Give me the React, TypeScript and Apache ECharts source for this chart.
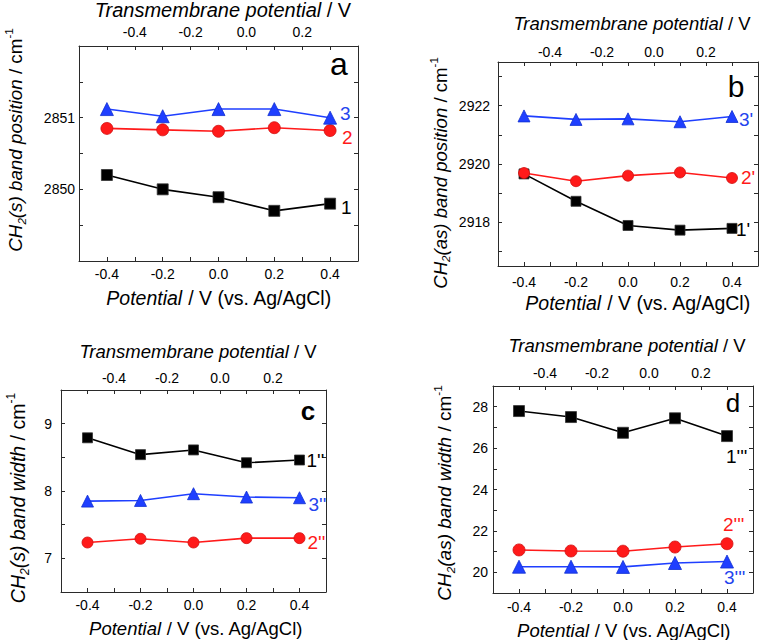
import React, { useEffect, useRef } from 'react';
import * as echarts from 'echarts';

// ---------- data ----------
const potentials = [-0.4, -0.2, 0.0, 0.2, 0.4];

const aSym1 = [2850.2, 2850.0, 2849.89, 2849.7, 2849.8];
const aSym2 = [2850.85, 2850.83, 2850.81, 2850.86, 2850.82];
const aSym3 = [2851.12, 2851.02, 2851.12, 2851.12, 2851.0];

const bAsym1 = [2919.66, 2918.72, 2917.89, 2917.73, 2917.79];
const bAsym2 = [2919.69, 2919.41, 2919.6, 2919.71, 2919.52];
const bAsym3 = [2921.65, 2921.53, 2921.55, 2921.45, 2921.63];

const cWidth1 = [8.79, 8.54, 8.61, 8.42, 8.46];
const cWidth2 = [7.235, 7.29, 7.235, 7.3, 7.3];
const cWidth3 = [7.85, 7.86, 7.96, 7.91, 7.9];

const dWidth1 = [27.79, 27.5, 26.74, 27.44, 26.58];
const dWidth2 = [21.08, 21.03, 21.02, 21.22, 21.38];
const dWidth3 = [20.27, 20.27, 20.26, 20.45, 20.52];

const aLabels = ['1', '2', '3'];
const bLabels = ["1'", "2'", "3'"];
const cLabels = ["1''", "2''", "3''"];
const dLabels = ["1'''", "2'''", "3'''"];

// ---------- style ----------
const FONT = "'Liberation Sans', Arial, Helvetica, sans-serif";
const BLACK = '#000000';
const RED = '#ff1a1a';
const BLUE = '#1f3fff';
const AXIS = '#2a2a2a';

type SeriesCfg = {
  data: number[];
  name: string;
  color: string;
  border: string;
  symbol: string;
  size: number;
  label: string;
  dx: number;
  dy: number;
};

type PanelCfg = {
  grid: { left: number; top: number; width: number; height: number };
  yMin: number;
  yMax: number;
  yInterval?: number;
  ySplit?: number;
  yStep: number;
  leftMargin: number;
  bottomMargin: number;
  topMargin: number;
  series: SeriesCfg[];
};

const panels: PanelCfg[] = [
  {
    grid: { left: 79, top: 46, width: 279, height: 215 },
    yMin: 2849, yMax: 2852, yInterval: 0.5, yStep: 1,
    leftMargin: 4, bottomMargin: 6, topMargin: 7,
    series: [
      { data: aSym1, name: 'a1', color: BLACK, border: '#333', symbol: 'rect', size: 11, label: aLabels[0], dx: 11, dy: 4 },
      { data: aSym2, name: 'a2', color: RED, border: '#d01010', symbol: 'circle', size: 12, label: aLabels[1], dx: 12, dy: 7 },
      { data: aSym3, name: 'a3', color: BLUE, border: '#1030d0', symbol: 'triangle', size: 13, label: aLabels[2], dx: 10, dy: -4 },
    ],
  },
  {
    grid: { left: 498, top: 62, width: 260, height: 204 },
    yMin: 2916.5, yMax: 2923.5, ySplit: 7, yStep: 2,
    leftMargin: 8, bottomMargin: 9, topMargin: 3,
    series: [
      { data: bAsym1, name: 'b1', color: BLACK, border: '#333', symbol: 'rect', size: 10, label: bLabels[0], dx: 4, dy: 1 },
      { data: bAsym2, name: 'b2', color: RED, border: '#d01010', symbol: 'circle', size: 11, label: bLabels[1], dx: 9, dy: 0 },
      { data: bAsym3, name: 'b3', color: BLUE, border: '#1030d0', symbol: 'triangle', size: 12, label: bLabels[2], dx: 7, dy: 3 },
    ],
  },
  {
    grid: { left: 61, top: 390, width: 265, height: 202 },
    yMin: 6.5, yMax: 9.5, yInterval: 0.5, yStep: 1,
    leftMargin: 9, bottomMargin: 6, topMargin: 5,
    series: [
      { data: cWidth1, name: 'c1', color: BLACK, border: '#333', symbol: 'rect', size: 10, label: cLabels[0], dx: 7, dy: 0 },
      { data: cWidth2, name: 'c2', color: RED, border: '#d01010', symbol: 'circle', size: 11, label: cLabels[1], dx: 8, dy: 4 },
      { data: cWidth3, name: 'c3', color: BLUE, border: '#1030d0', symbol: 'triangle', size: 12, label: cLabels[2], dx: 9, dy: 7 },
    ],
  },
  {
    grid: { left: 493, top: 386, width: 260, height: 207 },
    yMin: 19, yMax: 29, yInterval: 1, yStep: 2,
    leftMargin: 5, bottomMargin: 7, topMargin: 6,
    series: [
      { data: dWidth1, name: 'd1', color: BLACK, border: '#333', symbol: 'rect', size: 11, label: dLabels[0], dx: -1, dy: 20 },
      { data: dWidth2, name: 'd2', color: RED, border: '#d01010', symbol: 'circle', size: 12, label: dLabels[1], dx: -4, dy: -19 },
      { data: dWidth3, name: 'd3', color: BLUE, border: '#1030d0', symbol: 'triangle', size: 13, label: dLabels[2], dx: -3, dy: 16 },
    ],
  },
];

type TitleCfg = { top: [number, number, number]; bottom: [number, number, number]; y: [number, number, number]; yText: string; letter: [string, number, number, number, string] };

const titles: TitleCfg[] = [
  { top: [223, 10, 20], bottom: [219, 298, 19.5], y: [15, 140, 18.8], yText: '(s) band position', letter: ['a', 339, 64, 32, 'normal'] },
  { top: [632, 23, 18.5], bottom: [638, 303, 19.5], y: [440, 173, 18.6], yText: '(as) band position', letter: ['b', 736, 86, 30, 'normal'] },
  { top: [198, 351, 18.5], bottom: [196, 628, 18.5], y: [18, 498, 19.5], yText: '(s) band width', letter: ['c', 308, 411, 26, 'bold'] },
  { top: [627, 345, 18.5], bottom: [624, 630, 18.5], y: [444, 493, 19], yText: '(as) band width', letter: ['d', 733, 403, 26, 'normal'] },
];

const near = (a: number, b: number) => Math.abs(a - b) < 1e-6;

function fmtBottom(v: number) {
  const k = Math.round(v * 10);
  if (k % 2 !== 0 || k < -4 || k > 4) return '';
  return (k / 10).toFixed(1);
}
function fmtTop(v: number) {
  const k = Math.round(v * 10);
  if (k % 2 !== 0 || k < -4 || k > 2) return '';
  return (k / 10).toFixed(1);
}

function buildOption() {
  const grid: any[] = [];
  const xAxis: any[] = [];
  const yAxis: any[] = [];
  const series: any[] = [];
  const graphic: any[] = [];

  const lineStyle = { color: AXIS, width: 1 };
  const tick = { show: true, inside: true, length: 4, lineStyle };
  const labelBase = { color: '#000', fontSize: 14, fontFamily: FONT };

  panels.forEach((p, i) => {
    grid.push({ ...p.grid, containLabel: false });
    xAxis.push({
      gridIndex: i, type: 'value', position: 'bottom', min: -0.5, max: 0.5, interval: 0.1,
      axisLine: { show: true, onZero: false, lineStyle }, axisTick: tick, splitLine: { show: false },
      axisLabel: { ...labelBase, margin: p.bottomMargin, formatter: fmtBottom, showMinLabel: true, showMaxLabel: true },
    });
    xAxis.push({
      gridIndex: i, type: 'value', position: 'top', min: -0.6, max: 0.4, interval: 0.1,
      axisLine: { show: true, onZero: false, lineStyle }, axisTick: tick, splitLine: { show: false },
      axisLabel: { ...labelBase, margin: p.topMargin, formatter: fmtTop, showMinLabel: true, showMaxLabel: true },
    });
    const yCommon: any = {
      gridIndex: i, type: 'value', min: p.yMin, max: p.yMax,
      axisLine: { show: true, onZero: false, lineStyle }, axisTick: tick, splitLine: { show: false },
    };
    if (p.yInterval != null) yCommon.interval = p.yInterval;
    if (p.ySplit != null) yCommon.splitNumber = p.ySplit;
    yAxis.push({
      ...yCommon, position: 'left',
      axisLabel: {
        ...labelBase, margin: p.leftMargin,
        formatter: (v: number) => {
          const r = v / p.yStep;
          if (!near(r, Math.round(r))) return '';
          if (near(v, p.yMin) || near(v, p.yMax)) return '';
          return String(Math.round(v));
        },
      },
    });
    yAxis.push({ ...yCommon, position: 'right', axisLabel: { show: false } });

    p.series.forEach((s) => {
      const data = potentials.map((x, j) => {
        if (j !== potentials.length - 1) return [x, s.data[j]];
        return {
          value: [x, s.data[j]],
          label: {
            show: true, formatter: s.label, position: ['50%', '50%'], align: 'left', verticalAlign: 'middle',
            offset: [s.dx, s.dy], color: s.color === BLACK ? '#000' : s.color === RED ? RED : '#2444ee',
            fontSize: 19, fontFamily: FONT,
          },
        };
      });
      series.push({
        name: s.name, type: 'line', xAxisIndex: 2 * i, yAxisIndex: 2 * i, data,
        symbol: s.symbol, symbolSize: s.size,
        lineStyle: { color: s.color, width: 1.6 },
        itemStyle: { color: s.color, borderColor: s.border, borderWidth: 0.8 },
        label: { show: false },
        emphasis: { disabled: true },
        z: 3,
      });
    });

    const t = titles[i];
    graphic.push({
      type: 'text', x: t.top[0], y: t.top[1],
      style: {
        text: '{i|Transmembrane potential}{n| / V}', align: 'center', verticalAlign: 'middle', fill: '#000',
        fontSize: t.top[2], fontFamily: FONT,
        rich: { i: { fontStyle: 'italic', fontSize: t.top[2], fontFamily: FONT }, n: { fontSize: t.top[2], fontFamily: FONT } },
      },
    });
    graphic.push({
      type: 'text', x: t.bottom[0], y: t.bottom[1],
      style: {
        text: '{i|Potential}{n| / V (vs. Ag/AgCl)}', align: 'center', verticalAlign: 'middle', fill: '#000',
        fontSize: t.bottom[2], fontFamily: FONT,
        rich: { i: { fontStyle: 'italic', fontSize: t.bottom[2], fontFamily: FONT }, n: { fontSize: t.bottom[2], fontFamily: FONT } },
      },
    });
    const fs = t.y[2];
    graphic.push({
      type: 'text', x: t.y[0], y: t.y[1], rotation: Math.PI / 2,
      style: {
        text: '{i|CH}{sub|2}{i|' + t.yText + '}{n| / cm}{sup|-1}', align: 'center', verticalAlign: 'middle', fill: '#000',
        fontSize: fs, fontFamily: FONT,
        rich: {
          i: { fontStyle: 'italic', fontSize: fs, fontFamily: FONT, lineHeight: fs * 1.3 },
          n: { fontSize: fs, fontFamily: FONT, lineHeight: fs * 1.3 },
          sub: { fontStyle: 'italic', fontSize: fs * 0.62, fontFamily: FONT, verticalAlign: 'bottom', lineHeight: fs * 0.62 },
          sup: { fontSize: fs * 0.62, fontFamily: FONT, verticalAlign: 'top', lineHeight: fs * 0.62 },
        },
      },
    });
    graphic.push({
      type: 'text', x: t.letter[1], y: t.letter[2],
      style: {
        text: t.letter[0], align: 'center', verticalAlign: 'middle', fill: '#000',
        fontSize: t.letter[3], fontWeight: t.letter[4], fontFamily: FONT,
      },
    });
  });

  return {
    animation: false,
    backgroundColor: '#ffffff',
    textStyle: { fontFamily: FONT },
    grid, xAxis, yAxis, series, graphic,
  };
}

export default function App() {
  const ref = useRef<HTMLDivElement>(null);
  useEffect(() => {
    if (!ref.current) return;
    const chart = echarts.init(ref.current, null, { renderer: 'svg' });
    chart.setOption(buildOption() as any);
    return () => chart.dispose();
  }, []);
  return (
    <div
      ref={ref}
      style={{ position: 'absolute', left: 0, top: 0, width: 761, height: 640, background: '#fff' }}
    />
  );
}
